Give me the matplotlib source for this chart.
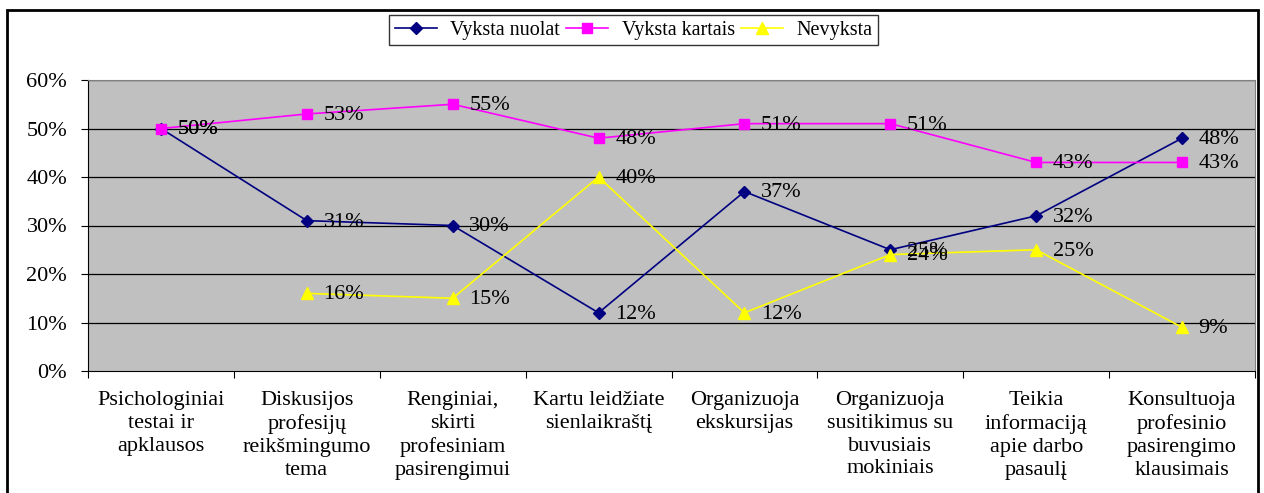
import matplotlib.pyplot as plt
from matplotlib.patches import Rectangle

categories = [
    "Psichologiniai\ntestai ir\napklausos",
    "Diskusijos\nprofesijų\nreikšmingumo\ntema",
    "Renginiai,\nskirti\nprofesiniam\npasirengimui",
    "Kartu leidžiate\nsienlaikraštį",
    "Organizuoja\nekskursijas",
    "Organizuoja\nsusitikimus su\nbuvusiais\nmokiniais",
    "Teikia\ninformaciją\napie darbo\npasaulį",
    "Konsultuoja\nprofesinio\npasirengimo\nklausimais",
]
vyksta_nuolat = [50, 31, 30, 12, 37, 25, 32, 48]
vyksta_kartais = [50, 53, 55, 48, 51, 51, 43, 43]
nevyksta = [None, 16, 15, 40, 12, 24, 25, 9]

plt.rcParams["font.family"] = "serif"
plt.rcParams["font.serif"] = ["Liberation Serif", "DejaVu Serif"]
fs = 16

fig = plt.figure(figsize=(12.64, 4.93), dpi=100)
ax = fig.add_axes([88 / 1264, 1 - 371 / 493, 1167 / 1264, 291 / 493])
ax.set_facecolor("#c0c0c0")

x = list(range(len(categories)))
series = [
    ("Vyksta nuolat", vyksta_nuolat, "#000080", "D", 6),
    ("Vyksta kartais", vyksta_kartais, "#ff00ff", "s", 7),
    ("Nevyksta", nevyksta, "#ffff00", "^", 9),
]
for name, vals, col, mk, ms in series:
    xs = [i for i, v in zip(x, vals) if v is not None]
    ys = [v for v in vals if v is not None]
    ax.plot(xs, ys, color=col, marker=mk, markersize=ms, lw=1.2, label=name)
    for xi, yi in zip(xs, ys):
        ax.annotate(f"{yi}%", (xi, yi), xytext=(12, -1), textcoords="offset points",
                    ha="left", va="center", fontsize=fs)

ax.set_xlim(-0.5, len(categories) - 0.5)
ax.set_ylim(0, 60)
ax.set_yticks(range(0, 61, 10))
ax.set_yticklabels([f"{v}%" for v in range(0, 61, 10)], fontsize=fs)
for v in range(10, 61, 10):
    ax.axhline(v, color="black", lw=0.9, zorder=0.5)

ax.set_xticks([i - 0.5 for i in range(len(categories) + 1)])
ax.set_xticklabels([])
ax.set_xticks(x, minor=True)
ax.set_xticklabels(categories, minor=True, fontsize=fs, linespacing=1.27)
ax.tick_params(axis="x", which="minor", length=0, pad=14.5)
ax.tick_params(axis="x", which="major", length=5, direction="out")
ax.tick_params(axis="y", length=5, direction="out", pad=10)

ax.spines["top"].set_color("#808080")
ax.spines["right"].set_color("#808080")
ax.spines["left"].set_color("black")
ax.spines["bottom"].set_color("black")

leg = fig.legend(loc="upper center", bbox_to_anchor=(633.5 / 1264, 1 - 15 / 493), ncol=3,
                 fontsize=14.5, frameon=True, fancybox=False, edgecolor="black",
                 borderpad=0.28, handlelength=2.1, columnspacing=0.3, handletextpad=0.65,
                 borderaxespad=0)
leg.get_frame().set_linewidth(1.0)

fig.patches.append(Rectangle((7 / 1264, -0.1), 1251 / 1264, 1.1 - 10 / 493,
                             transform=fig.transFigure, fill=False,
                             edgecolor="black", lw=2, zorder=10))

fig.savefig("out.png", dpi=100)
